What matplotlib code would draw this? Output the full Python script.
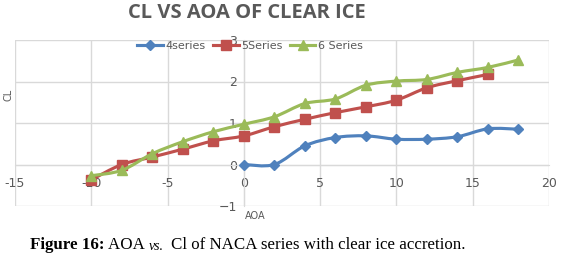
import matplotlib
matplotlib.use("Agg")
import matplotlib.pyplot as plt
from matplotlib.path import Path
from matplotlib.patches import PathPatch
from matplotlib.lines import Line2D

aoa_4 = [0, 2, 4, 6, 8, 10, 12, 14, 16, 18]
cl_4 = [0.0, 0.0, 0.45, 0.65, 0.69, 0.61, 0.61, 0.67, 0.86, 0.85]
aoa_5 = [-10, -8, -6, -4, -2, 0, 2, 4, 6, 8, 10, 12, 14, 16]
cl_5 = [-0.37, 0.0, 0.18, 0.37, 0.57, 0.69, 0.91, 1.09, 1.25, 1.39, 1.55, 1.85, 2.02, 2.17]
aoa_6 = [-10, -8, -6, -4, -2, 0, 2, 4, 6, 8, 10, 12, 14, 16, 18]
cl_6 = [-0.27, -0.14, 0.26, 0.55, 0.79, 0.97, 1.15, 1.47, 1.58, 1.91, 2.01, 2.05, 2.22, 2.34, 2.52]
xticks = [-15, -10, -5, 0, 5, 10, 15, 20]
yticks = [-1, 0, 1, 2, 3]
names = ["4series", "5Series", "6 Series"]
colors = ["#4F81BD", "#C0504D", "#9BBB59"]
markers = [("D", 5.5), ("s", 7.5), ("^", 7.5)]

W, H = 581, 262
fig = plt.figure(figsize=(W / 100, H / 100), dpi=100)
ax = fig.add_axes([15 / W, 1 - 206 / H, (549 - 15) / W, (206 - 40) / H])

grid_c = "#d9d9d9"
txt_c = "#595959"


def smooth_path(xs, ys, k=6.0):
    n = len(xs)
    verts = [(xs[0], ys[0])]
    codes = [Path.MOVETO]
    for i in range(n - 1):
        x0, y0 = xs[max(i - 1, 0)], ys[max(i - 1, 0)]
        x1, y1 = xs[i], ys[i]
        x2, y2 = xs[i + 1], ys[i + 1]
        x3, y3 = xs[min(i + 2, n - 1)], ys[min(i + 2, n - 1)]
        verts += [(x1 + (x2 - x0) / k, y1 + (y2 - y0) / k),
                  (x2 - (x3 - x1) / k, y2 - (y3 - y1) / k),
                  (x2, y2)]
        codes += [Path.CURVE4] * 3
    return Path(verts, codes)


handles = []
for (xs, ys), name, c, (m, ms), z in zip([(aoa_4, cl_4), (aoa_5, cl_5), (aoa_6, cl_6)],
                                         names, colors, markers, [3, 3, 4]):
    ax.add_patch(PathPatch(smooth_path(xs, ys), facecolor="none", edgecolor=c, lw=2.25,
                           zorder=z, capstyle="round", joinstyle="round"))
    ax.plot(xs, ys, ls="none", marker=m, ms=ms, color=c, zorder=z)
    handles.append(Line2D([], [], color=c, lw=2.25, marker=m, ms=ms, label=name))

ax.set_xlim(-15, 20)
ax.set_ylim(-1, 3)
ax.set_xticks(xticks)
ax.set_yticks(yticks)
ax.grid(True, color=grid_c, lw=1)
ax.set_axisbelow(True)
for s in ["top", "right"]:
    ax.spines[s].set_visible(False)
ax.spines["left"].set_position(("data", 0))
ax.spines["bottom"].set_position(("data", 0))
ax.spines["left"].set_color(grid_c)
ax.spines["bottom"].set_color(grid_c)
ax.tick_params(axis="x", length=0, labelsize=9, labelcolor=txt_c, pad=9)
ax.tick_params(axis="y", length=0, labelsize=9, labelcolor=txt_c, pad=5)
ax.set_xticklabels([str(t) for t in xticks])

fig.text(8 / W, 1 - 95 / H, "CL", rotation=90, ha="center", va="center", fontsize=7, color=txt_c)
fig.text(255 / W, 1 - 216 / H, "AOA", ha="center", va="center", fontsize=7, color=txt_c)

fig.text(247 / W, 1 - 13 / H, "CL VS AOA OF CLEAR ICE", ha="center", va="center",
         fontsize=14.5, fontweight="bold", color=txt_c, family="Open Sans")

ax.legend(handles=handles, loc="upper center", bbox_to_anchor=(0.44, 1.02), ncol=3, frameon=False,
          fontsize=8, labelcolor=txt_c, handlelength=2.3, columnspacing=0.7, handletextpad=0.2,
          borderaxespad=0)

y_cap = 1 - 245 / H
t = fig.text(30 / W, y_cap, "Figure 16:", ha="left", va="center", fontsize=12.2,
             family="Liberation Serif", fontweight="bold", color="black")
fig.canvas.draw()
r = fig.canvas.get_renderer()
bb = t.get_window_extent(r)
t2 = fig.text((bb.x1 + 4) / W, y_cap, "AOA ", ha="left", va="center", fontsize=12.2,
              family="Liberation Serif", color="black")
bb = t2.get_window_extent(r)
t3 = fig.text(bb.x1 / W, 1 - 246 / H, "vs.", ha="left", va="center", fontsize=10,
              family="Liberation Serif", style="italic", color="black")
bb = t3.get_window_extent(r)
fig.text((bb.x1 + 7) / W, y_cap, "Cl of NACA series with clear ice accretion.", ha="left",
         va="center", fontsize=12.2, family="Liberation Serif", color="black")

fig.savefig("out.png", dpi=100)
